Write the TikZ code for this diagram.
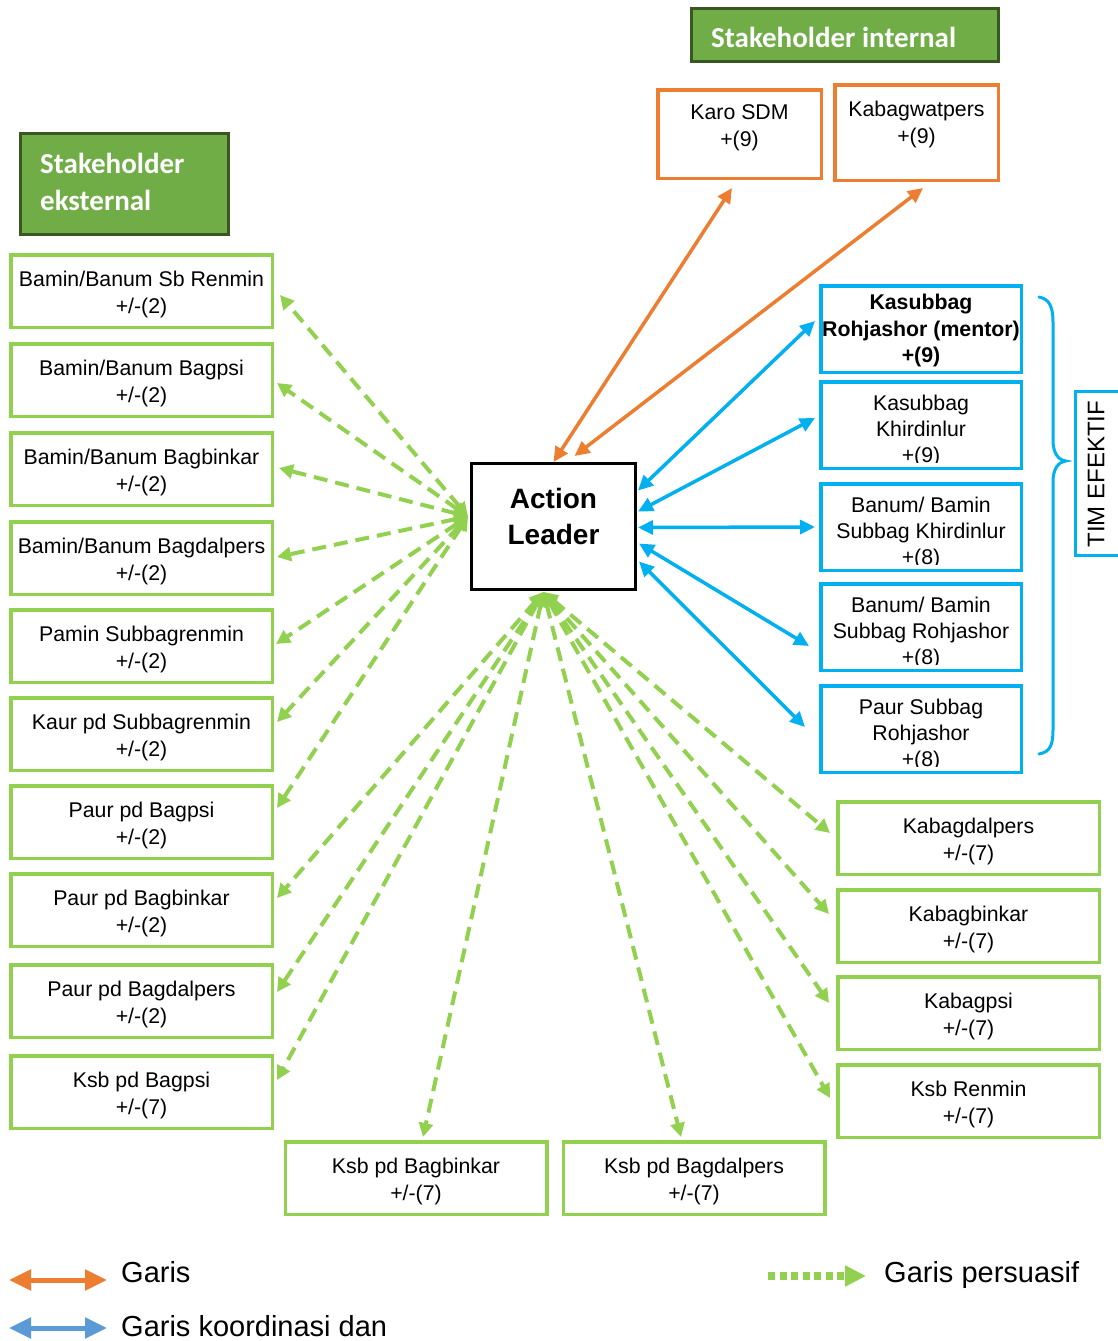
\documentclass[tikz,border=0pt]{standalone}
\usepackage{fontspec}
\setmainfont{Liberation Sans}
\newfontfamily\hdrfont{Carlito}
\usetikzlibrary{arrows.meta,calc}
\definecolor{gr}{HTML}{92D050}
\definecolor{org}{HTML}{ED7D31}
\definecolor{blu}{HTML}{00B0F0}
\definecolor{lblu}{HTML}{5B9BD5}
\definecolor{hfill}{HTML}{70AD47}
\definecolor{hdraw}{HTML}{385723}
\begin{document}
\begin{tikzpicture}[x=1pt,y=-1pt,
  txt/.style={font=\fontsize{21.3}{27}\selectfont, align=center, inner sep=1pt},
  gbox/.style={draw=gr, line width=3.5pt, fill=white, minimum width=261.5pt, minimum height=72.5pt,
     label={[txt, yshift=-3pt]center:{#1}}},
  obox/.style={draw=org, line width=3.5pt, fill=white, minimum width=163.5pt},
  bbox/.style={draw=blu, line width=3.5pt, fill=white, minimum width=200.5pt, minimum height=86.5pt},
  btxt/.style={font=\fontsize{21.3}{26}\selectfont, align=center, inner sep=0pt},
  hdr/.style={draw=hdraw, line width=3pt, fill=hfill},
  hdrtxt/.style={font=\hdrfont\bfseries\fontsize{29}{36}\selectfont, text=white, inner sep=0pt},
  garr/.style={draw=gr, line width=4pt, dash pattern=on 14pt off 8pt,
     {Triangle[length=14pt,width=14pt]}-{Triangle[length=14pt,width=14pt]}},
  barr/.style={draw=blu, line width=3.5pt,
     {Triangle[length=15pt,width=14pt]}-{Triangle[length=15pt,width=14pt]}},
  oarr/.style={draw=org, line width=3.5pt,
     {Triangle[length=15pt,width=14pt]}-{Triangle[length=15pt,width=14pt]}},
  lgtxt/.style={font=\fontsize{29}{34}\selectfont, inner sep=0pt, anchor=base west}
]
\useasboundingbox (0,0) rectangle (1118,1341);
\fill[white] (0,0) rectangle (1118,1341);

% headers
\node[hdr, minimum width=307pt, minimum height=53pt] (hint) at (845,35) {};
\node[hdrtxt, anchor=base west] (hintT) at (711,47) {Stakeholder internal};
\node[hdr, minimum width=208pt, minimum height=101pt] (hext) at (124.5,184) {};
\node[hdrtxt, anchor=base west] (hextT1) at (40,173) {Stakeholder};
\node[hdrtxt, anchor=base west] (hextT2) at (40,210) {eksternal};

% orange boxes
\node[obox, minimum height=88.5pt] (karo) at (739.5,134) {};
\node[txt] (karoT) at (739.5,127.5) {Karo SDM\\+(9)};
\node[obox, minimum height=95.5pt] (kabag) at (916.5,132.5) {};
\node[txt] (kabagT) at (916.5,124.5) {Kabagwatpers\\+(9)};

% action leader
\node[draw=black, line width=3pt, fill=white, minimum width=164pt, minimum height=126pt] (AL) at (553.5,526.5) {};
\node[font=\bfseries\fontsize{28}{36}\selectfont, align=center, inner sep=0pt] (ALT) at (553.5,516) {Action\\Leader};

% left green boxes
\node[gbox={Bamin/Banum Sb Renmin\\+/-(2)}] (L1) at (141.5,291) {};
\node[gbox={Bamin/Banum Bagpsi\\+/-(2)}] (L2) at (141.5,380) {};
\node[gbox={Bamin/Banum Bagbinkar\\+/-(2)}] (L3) at (141.5,469) {};
\node[gbox={Bamin/Banum Bagdalpers\\+/-(2)}] (L4) at (141.5,558) {};
\node[gbox={Pamin Subbagrenmin\\+/-(2)}] (L5) at (141.5,646) {};
\node[gbox={Kaur pd Subbagrenmin\\+/-(2)}] (L6) at (141.5,734) {};
\node[gbox={Paur pd Bagpsi\\+/-(2)}] (L7) at (141.5,822) {};
\node[gbox={Paur pd Bagbinkar\\+/-(2)}] (L8) at (141.5,910) {};
\node[gbox={Paur pd Bagdalpers\\+/-(2)}] (L9) at (141.5,1001) {};
\node[gbox={Ksb pd Bagpsi\\+/-(7)}] (L10) at (141.5,1092) {};

% right green boxes
\node[gbox={Kabagdalpers\\+/-(7)}] (R1) at (968.5,838) {};
\node[gbox={Kabagbinkar\\+/-(7)}] (R2) at (968.5,926) {};
\node[gbox={Kabagpsi\\+/-(7)}] (R3) at (968.5,1013) {};
\node[gbox={Ksb Renmin\\+/-(7)}] (R4) at (968.5,1101) {};

% bottom green boxes
\node[gbox={Ksb pd Bagbinkar\\+/-(7)}] (D1) at (416,1178) {};
\node[gbox={Ksb pd Bagdalpers\\+/-(7)}] (D2) at (694,1178) {};

% blue boxes
\node[bbox] (B1) at (921,329) {};
\node[btxt, font=\bfseries\fontsize{21.3}{26.5}\selectfont] (B1t) at (921,330.5) {Kasubbag\\Rohjashor (mentor)\\+(9)};
\node[bbox] (B2) at (921,425) {};
\begin{scope}
\clip ($(B2.north west)+(2,2)$) rectangle ($(B2.south east)+(-2,-8)$);
\node[btxt] (B2t) at (921,431) {Kasubbag\\Khirdinlur\\+(9)};
\end{scope}
\node[bbox] (B3) at (921,527) {};
\begin{scope}
\clip ($(B3.north west)+(2,2)$) rectangle ($(B3.south east)+(-2,-8)$);
\node[btxt] (B3t) at (921,533) {Banum/ Bamin\\Subbag Khirdinlur\\+(8)};
\end{scope}
\node[bbox] (B4) at (921,627) {};
\begin{scope}
\clip ($(B4.north west)+(2,2)$) rectangle ($(B4.south east)+(-2,-8)$);
\node[btxt] (B4t) at (921,633) {Banum/ Bamin\\Subbag Rohjashor\\+(8)};
\end{scope}
\node[bbox] (B5) at (921,729) {};
\begin{scope}
\clip ($(B5.north west)+(2,2)$) rectangle ($(B5.south east)+(-2,-8)$);
\node[btxt] (B5t) at (921,735) {Paur Subbag\\Rohjashor\\+(8)};
\end{scope}

% brace and TIM EFEKTIF
\draw[blu, line width=3pt, line cap=round]
  (1039,297) .. controls (1050,299) and (1053,308) .. (1053,322) -- (1053,440)
  .. controls (1053,453) and (1058,460) .. (1066,461)
  .. controls (1058,462) and (1053,469) .. (1053,482) -- (1053,730)
  .. controls (1053,745) and (1050,752) .. (1039,754);
\node[draw=blu, line width=3.5pt, fill=white, minimum width=56pt, minimum height=164pt] (timbox) at (1103.5,473.5) {};
\node[rotate=90, font=\fontsize{24}{28}\selectfont, inner sep=0pt] (timT) at (1096,474) {TIM EFEKTIF};

% hubs
\coordinate (hubL) at ($(AL.west)+(-2,-10)$);
\coordinate (hubB) at ($(AL.south)+(-10,1)$);

% orange arrows
\draw[oarr] (AL.north) -- ($(karo.south)+(-7.5,8)$);
\draw[oarr] ($(AL.north)+(21,-6)$) -- ($(kabag.south)+(6.5,6)$);

% blue arrows
\draw[barr] ($(AL.east)+(1,-36)$) -- ($(B1.west)+(-4,-8)$);
\draw[barr] ($(AL.east)+(1,-15)$) -- ($(B2.west)+(-4,-7)$);
\draw[barr] ($(AL.east)+(1,1)$) -- ($(B3.west)+(-4,0)$);
\draw[barr] ($(AL.east)+(2,17)$) -- ($(B4.west)+(-10,19)$);
\draw[barr] ($(AL.east)+(2,35)$) -- ($(B5.west)+(-14,-2)$);

% green persuasive arrows (left hub)
\draw[garr] (hubL) -- ($(L1.east)+(6,4)$);
\draw[garr] (hubL) -- ($(L2.east)+(3,3)$);
\draw[garr] (hubL) -- ($(L3.east)+(5,-1)$);
\draw[garr] (hubL) -- ($(L4.east)+(3,-1)$);
\draw[garr] (hubL) -- ($(L5.east)+(2,-2)$);
\draw[garr] (hubL) -- ($(L6.east)+(3,-12)$);
\draw[garr] (hubL) -- ($(L7.east)+(3,-14)$);
% green persuasive arrows (bottom hub)
\draw[garr] (hubB) -- ($(L8.east)+(3,-12)$);
\draw[garr] (hubB) -- ($(L9.east)+(3,-9)$);
\draw[garr] (hubB) -- ($(L10.east)+(3,-12)$);
\draw[garr] (hubB) -- ($(D1.north)+(7,-3)$);
\draw[garr] (hubB) -- ($(D2.north)+(-13,-3)$);
\draw[garr] (hubB) -- ($(R1.west)+(-6,-5)$);
\draw[garr] (hubB) -- ($(R2.west)+(-7,-12)$);
\draw[garr] (hubB) -- ($(R3.west)+(-7,-10)$);
\draw[garr] (hubB) -- ($(R4.west)+(-6,-3)$);

% legend
\coordinate (lgO1) at (9,1280);
\coordinate (lgO2) at (107,1280);
\draw[org, line width=5pt, {Triangle[length=22pt,width=20pt]}-{Triangle[length=22pt,width=20pt]}] (lgO1) -- (lgO2);
\node[lgtxt] (lgOt) at (121,1282) {Garis};
\coordinate (lgB1) at (9,1328);
\coordinate (lgB2) at (107,1328);
\draw[lblu, line width=5pt, {Triangle[length=22pt,width=20pt]}-{Triangle[length=22pt,width=20pt]}] (lgB1) -- (lgB2);
\node[lgtxt] (lgBt) at (121,1336) {Garis koordinasi dan};
\coordinate (lgG1) at (768,1276);
\coordinate (lgG2) at (866,1276);
\draw[gr, line width=8pt, dash pattern=on 7pt off 4.5pt, -{Triangle[length=21pt,width=20pt]}] (lgG1) -- (lgG2);
\node[lgtxt] (lgGt) at (884,1282) {Garis persuasif};
\end{tikzpicture}
\end{document}
